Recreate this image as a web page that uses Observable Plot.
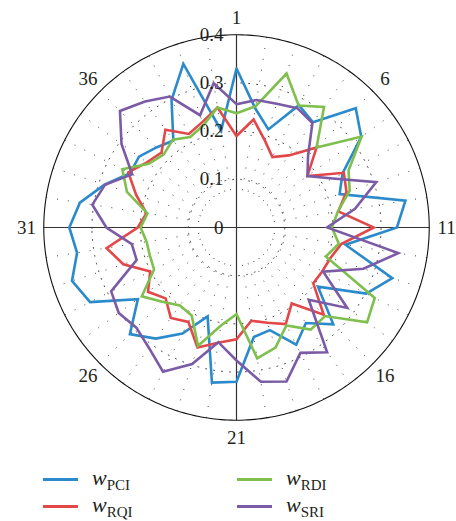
<!DOCTYPE html>
<html><head><meta charset="utf-8">
<script src="https://cdn.jsdelivr.net/npm/d3@7"></script>
<script src="https://cdn.jsdelivr.net/npm/@observablehq/plot@0.6"></script>
<style>
body{margin:0;background:#fff;}
#wrap{position:relative;width:456px;height:521px;overflow:hidden;font-family:"Liberation Serif",serif;color:#231f20;}
#wrap svg{position:absolute;left:0;top:0;}
.swatch{position:absolute;width:35px;height:3px;}
.lab{position:absolute;font-size:22px;line-height:24px;font-style:italic;white-space:nowrap;}
.lab sub{font-style:normal;font-size:15px;vertical-align:-5px;line-height:0;}
</style></head><body><div id="wrap"></div>
<script>
// axis index 1..40
const indices = d3.range(1, 41);
const pci = [0.33,0.25,0.214,0.285,0.27,0.35,0.32,0.247,0.225,0.355,
             0.333,0.229,0.34,0.302,0.209,0.284,0.245,0.273,0.224,0.23,
             0.32,0.326,0.194,0.247,0.285,0.313,0.253,0.341,0.359,0.335,
             0.347,0.329,0.288,0.248,0.25,0.235,0.223,0.297,0.357,0.204];
const rqi = [0.19,0.227,0.19,0.164,0.185,0.235,0.182,0.25,0.24,0.214,
             0.285,0.22,0.205,0.2,0.197,0.256,0.195,0.225,0.208,0.196,
             0.232,0.242,0.262,0.22,0.232,0.208,0.227,0.201,0.247,0.273,
             0.205,0.189,0.219,0.252,0.23,0.22,0.251,0.218,0.23,0.252];
const rdi = [0.237,0.255,0.336,0.284,0.309,0.235,0.321,0.261,0.247,0.213,
             0.198,0.215,0.195,0.322,0.335,0.26,0.262,0.228,0.262,0.275,
             0.18,0.206,0.258,0.205,0.2,0.218,0.243,0.192,0.189,0.189,
             0.199,0.187,0.239,0.266,0.225,0.214,0.225,0.211,0.223,0.252];
const sri = [0.256,0.268,0.27,0.278,0.268,0.21,0.182,0.224,0.305,0.249,
             0.188,0.34,0.277,0.202,0.284,0.212,0.32,0.292,0.336,0.324,
             0.276,0.241,0.298,0.336,0.309,0.294,0.302,0.292,0.218,0.22,
             0.27,0.303,0.287,0.243,0.295,0.342,0.323,0.305,0.245,0.303];
const seriesNames = ["PCI","RQI","RDI","SRI"];
const seriesColors = ["#2b8acb","#e2474a","#7fbf4d","#7b5ba6"];
const angleLabels = [1,6,11,16,21,26,31,36];
const radialTicks = [0,0.1,0.2,0.3,0.4];
const rMax = 0.4;

const lon = i => 180 - (i - 1) * 9;   // index 1 at top, clockwise
const lat = v => 90 - v;

const rows = [];
[pci, rqi, rdi, sri].forEach((vals, s) => {
  vals.forEach((v, k) => rows.push({series: seriesNames[s], i: indices[k], v}));
  rows.push({series: seriesNames[s], i: indices[0], v: vals[0]});
});

const cardinal = [1, 11, 21, 31];
const spokes = indices.filter(i => !cardinal.includes(i));

const chart = Plot.plot({
  width: 456, height: 456,
  marginLeft: 24, marginRight: 8, marginTop: 15, marginBottom: 17,
  projection: {
    type: "azimuthal-equidistant",
    rotate: [0, -90],
    clip: false,
    domain: d3.geoCircle().center([0, 90]).radius(0.44)()
  },
  color: {domain: seriesNames, range: seriesColors},
  style: {fontFamily: "Liberation Serif, serif", background: "transparent", overflow: "visible"},
  marks: [
    Plot.geo(radialTicks.filter(r => r > 0 && r < rMax), {
      geometry: r => d3.geoCircle().center([0, 90]).radius(r).precision(1)(),
      stroke: "#444", strokeWidth: 1, strokeDasharray: "1,7", fill: "none"
    }),
    Plot.link(spokes, {
      x1: i => lon(i), y1: lat(rMax), x2: i => lon(i), y2: lat(0.06),
      stroke: "#444", strokeWidth: 1, strokeDasharray: "1,10"
    }),
    Plot.link(cardinal, {
      x1: i => lon(i), y1: lat(rMax), x2: i => lon(i), y2: 90,
      stroke: "#333", strokeWidth: 1.2
    }),
    Plot.geo([rMax], {
      geometry: r => d3.geoCircle().center([0, 90]).radius(r).precision(1)(),
      stroke: "#111", strokeWidth: 1.1, fill: "none"
    }),
    Plot.line(rows, {
      x: d => lon(d.i), y: d => lat(d.v), z: "series", stroke: "series",
      strokeWidth: 2.6, strokeLinejoin: "miter", strokeMiterlimit: 3
    }),
    Plot.text(angleLabels, {
      x: i => lon(i), y: lat(0.436), text: d => String(d),
      fontSize: 19, fill: "#231f20"
    }),
    Plot.text(radialTicks, {
      x: 180, y: v => lat(v), text: v => v === 0 ? "0" : v.toFixed(1),
      textAnchor: "end", dx: -13, fontSize: 19, fill: "#231f20"
    })
  ]
});

const wrap = document.getElementById("wrap");
wrap.appendChild(chart);

// legend
const legendItems = [
  {name: "PCI", color: seriesColors[0], x: 43, row: 0},
  {name: "RDI", color: seriesColors[2], x: 237, row: 0},
  {name: "RQI", color: seriesColors[1], x: 43, row: 1},
  {name: "SRI", color: seriesColors[3], x: 237, row: 1}
];
legendItems.forEach(it => {
  const cy = 479 + it.row * 27;
  const sw = document.createElement("div");
  sw.className = "swatch";
  sw.style.left = it.x + "px";
  sw.style.top = (cy - 1.5) + "px";
  sw.style.background = it.color;
  wrap.appendChild(sw);
  const lab = document.createElement("div");
  lab.className = "lab";
  lab.style.left = (it.x + 49) + "px";
  lab.style.top = (cy - 13.5) + "px";
  lab.innerHTML = "w<sub>" + it.name + "</sub>";
  wrap.appendChild(lab);
});
</script></body></html>
